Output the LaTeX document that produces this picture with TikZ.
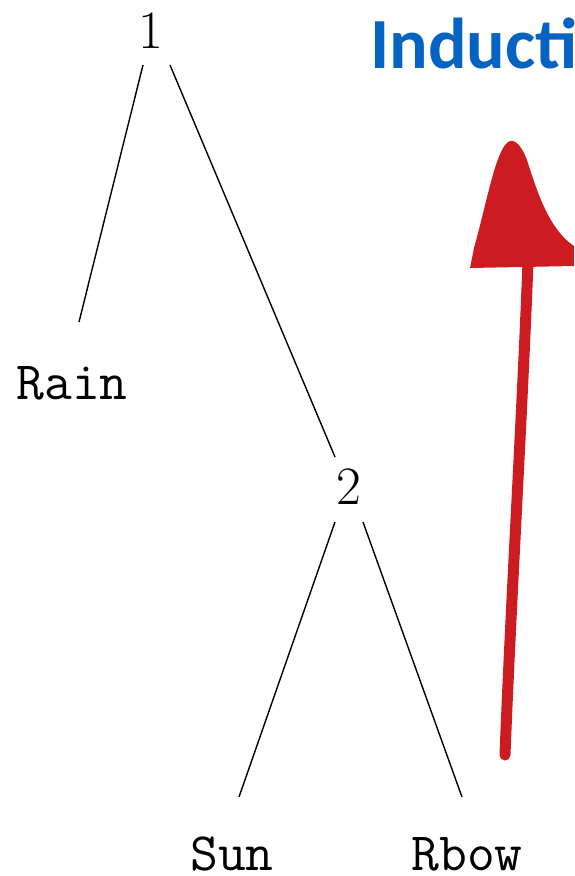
\documentclass[tikz,border=0pt]{standalone}
\usepackage{fontspec}
\newfontfamily\titlefont{Carlito}
\usetikzlibrary{calc}
\definecolor{titleblue}{RGB}{5,99,193}
\definecolor{brushred}{RGB}{204,28,34}
\tikzset{
  num/.style={inner sep=0pt, font=\fontsize{54}{60}\selectfont},
  leaf/.style={inner sep=0pt, font=\fontsize{54}{60}\selectfont\ttfamily},
  edge/.style={draw=black, line width=1.4pt},
  title/.style={inner sep=0pt, anchor=base west, text=titleblue, font=\fontsize{72}{80}\selectfont\titlefont\bfseries},
}
\begin{document}
\begin{tikzpicture}[x=1pt,y=-1pt]
\useasboundingbox (0,0) rectangle (574,876);
\begin{scope}
\clip (0,0) rectangle (574,876);
\node[title] (title) at (370,68) {Inducti};
\end{scope}
\node[num] (n1) at (151,31) {1};
\node[leaf] (rain) at (72,383) {Rain};
\node[num] (n2) at (349,487) {2};
\node[leaf] (sun) at (232,854) {Sun};
\node[leaf] (rbow) at (467,854) {Rbow};
\draw[edge] ($(n1)+(-8,34)$) -- ($(rain)+(7,-61)$);
\draw[edge] ($(n1)+(19,34)$) -- ($(n2)+(-14,-30)$);
\draw[edge] ($(n2)+(-14,35)$) -- ($(sun)+(7,-57)$);
\draw[edge] ($(n2)+(14,35)$) -- ($(rbow)+(-5,-57)$);
% red brush arrow
\coordinate (tail) at (505,755);
\coordinate (tip) at (528,262);
\draw[brushred, line width=11pt, line cap=round] (tail) .. controls (511,600) and (522,420) .. (tip);
\fill[brushred] (470,268) -- (474,248) .. controls (486,205) and (494,160) .. (505,145)
  .. controls (512,136) and (520,142) .. (527,160)
  .. controls (538,195) and (550,230) .. (574,246)
  -- (574,266) -- cycle;
\end{tikzpicture}
\end{document}
